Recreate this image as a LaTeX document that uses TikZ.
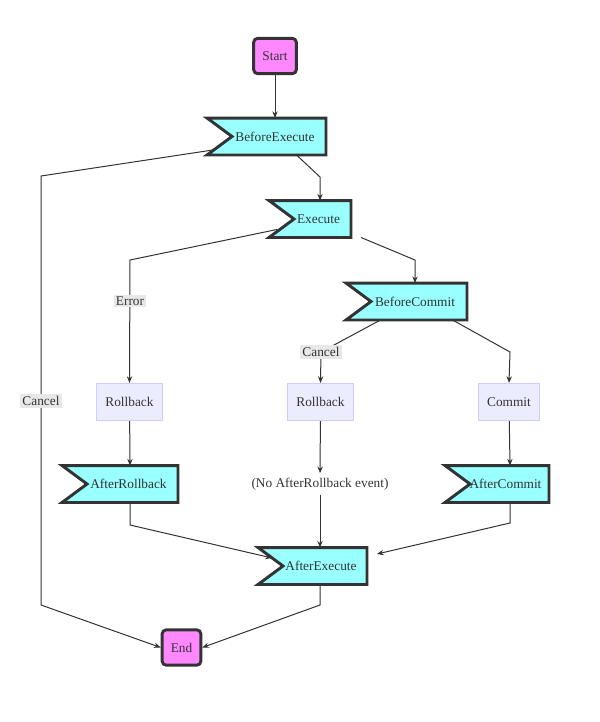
\documentclass[tikz,border=0pt]{standalone}
\usepackage{fontspec}
\setmainfont{Liberation Serif}
\newfontfamily\chartfont{Liberation Serif}
\usetikzlibrary{calc,arrows.meta}
\definecolor{eventfill}{HTML}{99FFFF}
\definecolor{termfill}{HTML}{FF88FF}
\definecolor{stepfill}{HTML}{ECECFF}
\definecolor{stepline}{HTML}{CCCCFF}
\definecolor{darkline}{HTML}{333333}
\definecolor{labelfill}{HTML}{E8E8E8}
\pgfdeclarelayer{edges}
\pgfdeclarelayer{shapes}
\pgfsetlayers{edges,shapes,main}
\begin{document}
\begin{tikzpicture}[x=0.75pt, y=-0.75pt,
    font=\chartfont\fontsize{10}{12}\selectfont,
    termstyle/.style={rectangle, rounded corners=3pt, draw=darkline, fill=termfill, line width=2.2pt, minimum height=26.5pt, text=darkline},
    eventstyle/.style={rectangle, minimum height=25.5pt, outer sep=1.1pt, inner sep=1pt, text=darkline},
    flagstyle/.style={draw=darkline, fill=eventfill, line width=2.2pt},
    opstyle/.style={rectangle, draw=stepline, fill=stepfill, line width=0.6pt, minimum height=28pt, text=darkline},
    labelstyle/.style={fill=labelfill, inner sep=1.5pt, text=darkline},
    arrowstyle/.style={-{Stealth[length=5pt,width=4pt]}, darkline, line width=0.75pt}
]
    \useasboundingbox (0,0) rectangle (600,722);

    \node[termstyle, minimum width=32pt] (start) at (275,56) {Start};
    \node[eventstyle, minimum width=87pt] (beforeexec) at (266.5,136.5) {\hspace{12.75pt}BeforeExecute};
    \node[eventstyle, minimum width=59.25pt] (execute) at (310,219) {\hspace{12.75pt}Execute};
    \node[eventstyle, minimum width=88.5pt] (beforecommit) at (406.5,301.5) {\hspace{12.75pt}BeforeCommit};
    \node[opstyle, minimum width=50pt] (rollbackerr) at (129.5,402) {Rollback};
    \node[opstyle, minimum width=50pt] (rollbackcancel) at (320.5,402) {Rollback};
    \node[opstyle, minimum width=46pt] (commit) at (509,402) {Commit};
    \node[eventstyle, minimum width=84.75pt] (afterrollback) at (120,484) {\hspace{12.75pt}AfterRollback};
    \node[text=darkline] (noevent) at (320,484) {(No AfterRollback event)};
    \node[eventstyle, minimum width=75.75pt] (aftercommit) at (497,484) {\hspace{12.75pt}AfterCommit};
    \node[eventstyle, minimum width=79.5pt] (afterexec) at (312.5,566) {\hspace{12.75pt}AfterExecute};
    \node[termstyle, minimum width=29pt] (end) at (181.5,647.5) {End};

    % flag outlines behind the event texts
    \begin{pgfonlayer}{shapes}
    \foreach \ev in {beforeexec, execute, beforecommit, afterrollback, aftercommit, afterexec}
        \draw[flagstyle] (\ev.north west) -- (\ev.north east) -- (\ev.south east) -- (\ev.south west) -- ($(\ev.west)+(25,0)$) -- cycle;
    \end{pgfonlayer}

    \begin{pgfonlayer}{edges}
    \draw[arrowstyle] (start) -- (start |- beforeexec.north);
    \draw[arrowstyle] ($(beforeexec.south)+(30,0)$) -- (320,177) -- ($(execute.north)+(10,0)$);
    \draw[arrowstyle] ($(beforeexec.south west)+(6,-5)$) -- (41,176) -- (41,605) -- (end.west);
    \draw[arrowstyle] ($(execute.south west)+(8,-8)$) -- (130,260) -- (rollbackerr.north);
    \draw[arrowstyle] ($(execute.south east)+(10,0)$) -- (415,260) -- ($(beforecommit.north)+(8.5,0)$);
    \draw[arrowstyle] ($(beforecommit.south)+(-26,0)$) -- (321,352) -- (rollbackcancel.north);
    \draw[arrowstyle] ($(beforecommit.south)+(46,0)$) -- (510,352) -- (commit.north);
    \draw[arrowstyle] (rollbackerr) -- ($(afterrollback.north)+(10,0)$);
    \draw[arrowstyle] (rollbackcancel) -- (noevent);
    \draw[arrowstyle] (commit) -- ($(aftercommit.north)+(13,0)$);
    \draw[arrowstyle] ($(afterrollback.south)+(10,0)$) -- (130,525) -- ($(afterexec.west)+(14,-8)$);
    \draw[arrowstyle] (noevent) -- ($(afterexec.north)+(7.5,0)$);
    \draw[arrowstyle] ($(aftercommit.south)+(13,0)$) -- (510,523) -- ($(afterexec.east)+(10,-12)$);
    \draw[arrowstyle] ($(afterexec.south)+(7.5,0)$) -- (320,605) -- (end.east);
    \end{pgfonlayer}

    \node[labelstyle] (cancelout) at (41,401) {Cancel};
    \node[labelstyle] (errorlbl) at (130,301) {Error};
    \node[labelstyle] (cancellbl) at (321,352) {Cancel};
\end{tikzpicture}
\end{document}
